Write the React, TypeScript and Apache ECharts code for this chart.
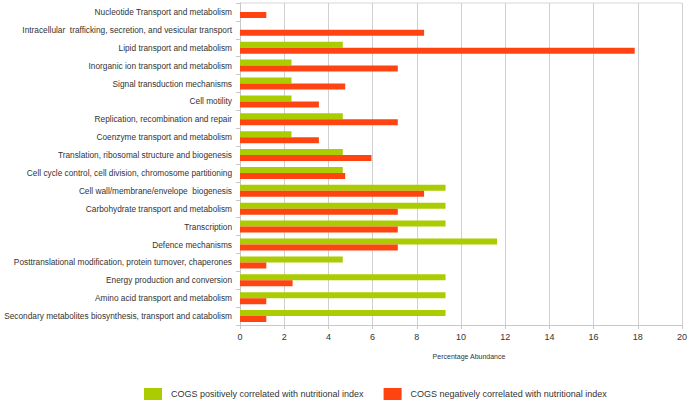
import React, { useEffect, useRef } from "react";
import * as echarts from "echarts";

const categories = [
  "Nucleotide Transport and metabolism",
  "Intracellular  trafficking, secretion, and vesicular transport",
  "Lipid transport and metabolism",
  "Inorganic ion transport and metabolism",
  "Signal transduction mechanisms",
  "Cell motility",
  "Replication, recombination and repair",
  "Coenzyme transport and metabolism",
  "Translation, ribosomal structure and biogenesis",
  "Cell cycle control, cell division, chromosome partitioning",
  "Cell wall/membrane/envelope  biogenesis",
  "Carbohydrate transport and metabolism",
  "Transcription",
  "Defence mechanisms",
  "Posttranslational modification, protein turnover, chaperones",
  "Energy production and conversion",
  "Amino acid transport and metabolism",
  "Secondary metabolites biosynthesis, transport and catabolism",
];

const positiveValues = [0, 0, 4.65, 2.33, 2.33, 2.33, 4.65, 2.33, 4.65, 4.65, 9.3, 9.3, 9.3, 11.63, 4.65, 9.3, 9.3, 9.3];
const negativeValues = [1.19, 8.33, 17.86, 7.14, 4.76, 3.57, 7.14, 3.57, 5.95, 4.76, 8.33, 7.14, 7.14, 7.14, 1.19, 2.38, 1.19, 1.19];

const seriesNames = [
  "COGS positively correlated with nutritional index",
  "COGS negatively correlated with nutritional index",
];

const FONT = "'Liberation Sans', Arial, sans-serif";

export default function App() {
  const ref = useRef<HTMLDivElement>(null);
  useEffect(() => {
    if (!ref.current) return;
    const chart = echarts.init(ref.current, null, { renderer: "svg" });
    chart.setOption({
      animation: false,
      textStyle: { fontFamily: FONT },
      grid: { left: 240, right: 7, top: 3, bottom: 76, containLabel: false, outerBoundsMode: "none" },
      legend: {
        left: 139,
        top: 383,
        itemWidth: 18,
        itemHeight: 12,
        itemGap: 20,
        icon: "rect",
        textStyle: { fontFamily: FONT, fontSize: 9, color: "#333", padding: [0, 0, 0, 4] },
        data: seriesNames,
      },
      xAxis: {
        type: "value",
        min: 0,
        max: 20,
        interval: 2,
        name: "Percentage Abundance",
        nameLocation: "middle",
        nameGap: 28,
        nameTextStyle: { fontFamily: FONT, fontSize: 7, color: "#333", padding: [0, 0, 0, 16] },
        axisLine: { show: true, lineStyle: { color: "#c8c8c8" } },
        axisTick: { show: true, length: 4, lineStyle: { color: "#c8c8c8" } },
        axisLabel: { fontFamily: FONT, fontSize: 9, color: "#333", margin: 7 },
        splitLine: { show: true, lineStyle: { color: "#d0d0d0", width: 1 } },
      },
      yAxis: {
        type: "category",
        inverse: true,
        data: categories,
        axisLine: { show: true, lineStyle: { color: "#c8c8c8" } },
        axisTick: { show: true, length: 4, lineStyle: { color: "#c8c8c8" } },
        axisLabel: { fontFamily: FONT, fontSize: 8.3, color: "#333", margin: 8 },
        splitLine: { show: false },
      },
      series: [
        {
          name: seriesNames[0],
          type: "bar",
          data: positiveValues,
          barWidth: 6,
          barGap: "0%",
          itemStyle: { color: "#aacc00" },
        },
        {
          name: seriesNames[1],
          type: "bar",
          data: negativeValues,
          barWidth: 6,
          barGap: "0%",
          itemStyle: { color: "#ff4411" },
        },
      ],
      graphic: [
        {
          type: "line",
          shape: { x1: 240, y1: 3, x2: 682, y2: 3 },
          style: { stroke: "#d8d8d8", lineWidth: 1 },
          silent: true,
        },
      ],
    });
    return () => chart.dispose();
  }, []);
  return <div ref={ref} style={{ width: 689, height: 401, position: "absolute", left: 0, top: 0 }} />;
}
